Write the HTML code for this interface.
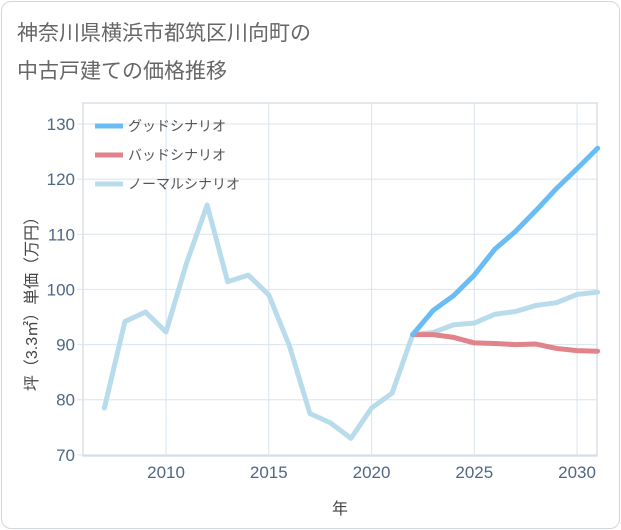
<!DOCTYPE html>
<html><head><meta charset="utf-8"><style>
body{margin:0;background:#fff;font-family:"Liberation Sans","Noto Sans CJK JP",sans-serif;}
#card{position:absolute;left:1px;top:1px;width:617px;height:526px;border:1px solid #cfd8e0;border-radius:10px;background:#fff;}
</style></head><body>
<div id="card"></div>
<svg id="chart" width="621" height="530" style="position:absolute;left:0;top:0">
<text x="17" y="40" font-size="21" fill="#666">神奈川県横浜市都筑区川向町の</text>
<text x="17" y="78" font-size="21" fill="#666">中古戸建ての価格推移</text>
<g id="grid"></g><g id="axes"></g><g id="series"></g><g id="legend"></g>
</svg>
<script>
const years=[2007,2008,2009,2010,2011,2012,2013,2014,2015,2016,2017,2018,2019,2020,2021,2022,2023,2024,2025,2026,2027,2028,2029,2030,2031];
const normalVals=[78.5,94.2,95.9,92.3,104.8,115.3,101.4,102.6,99,89.8,77.5,75.8,73,78.5,81.2,91.8,92.2,93.6,93.9,95.5,96,97.1,97.6,99.1,99.5];
const futureYears=[2022,2023,2024,2025,2026,2027,2028,2029,2030,2031];
const goodVals=[91.8,96.2,98.9,102.6,107.3,110.5,114.3,118.3,121.9,125.6];
const badVals=[91.8,91.8,91.3,90.3,90.2,90,90.1,89.3,88.9,88.8];
const xTicks=[2010,2015,2020,2025,2030];
const yTicks=[70,80,90,100,110,120,130];
const L=83,R=597,T=103,B=456;
const X0=2005.96,X1=2030.97,Y0=69.8,Y1=133.8;
const sx=v=>L+(v-X0)/(X1-X0)*(R-L);
const sy=v=>B-(v-Y0)/(Y1-Y0)*(B-T);
const NS="http://www.w3.org/2000/svg";
function mk(p,tag,a){const e=document.createElementNS(NS,tag);for(const k in a)e.setAttribute(k,a[k]);document.getElementById(p).appendChild(e);return e;}
const frame=mk('grid','rect',{x:L,y:T,width:R-L,height:B-T,fill:'none',stroke:'#c8d2da'});


xTicks.forEach(t=>{
 const g=mk('grid','line',{x1:sx(t),x2:sx(t),y1:T,y2:B,stroke:'#d8e4ee'});
 
 
 const tx=mk('axes','text',{x:sx(t),y:B+22,'font-size':17,fill:'#506784','text-anchor':'middle'});
 tx.textContent=t;
 
 
});
yTicks.forEach(t=>{
 const g=mk('grid','line',{x1:L-6,x2:R,y1:sy(t),y2:sy(t),stroke:'#d8e4ee'});
 
 
 const tx=mk('axes','text',{x:L-8,y:sy(t)+6,'font-size':17,fill:'#506784','text-anchor':'end'});
 tx.textContent=t;
 
 
});
const xt=mk('axes','text',{x:340,y:514,'font-size':16,fill:'#444','text-anchor':'middle'});
xt.textContent='年';


const yt=mk('axes','text',{x:0,y:0,'font-size':16,fill:'#444','text-anchor':'middle',transform:'translate(37,300) rotate(-90)'});
yt.textContent='坪（3.3㎡）単価（万円）';


function line(xs,ys,color,name){
 const p=mk('series','path',{d:xs.map((x,i)=>(i?'L':'M')+sx(x)+','+sy(ys[i])).join(''),fill:'none',stroke:color,'stroke-width':5,'stroke-linejoin':'round','stroke-linecap':'round'});
 
 
}
line(years,normalVals,'#b9dcec','normal-scenario-line');
line(futureYears,badVals,'#e0838a','bad-scenario-line');
line(futureYears,goodVals,'#69bdf2','good-scenario-line');
const leg=[['グッドシナリオ','#69bdf2'],['バッドシナリオ','#e0838a'],['ノーマルシナリオ','#b9dcec']];
leg.forEach((l,i)=>{
 const y=126+i*29;
 const s=mk('legend','line',{x1:95,x2:123,y1:y,y2:y,stroke:l[1],'stroke-width':5});
 
 
 const t=mk('legend','text',{x:128,y:y+5,'font-size':14,fill:'#555'});
 t.textContent=l[0];
 
 
});
</script>
</body></html>
